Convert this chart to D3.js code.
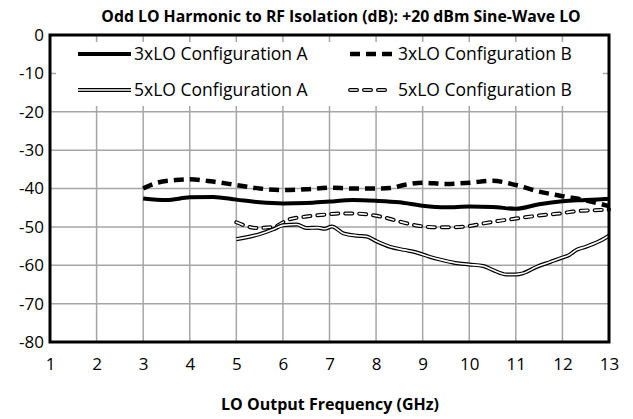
<!DOCTYPE html>
<html>
<head>
<meta charset="utf-8">
<script src="https://cdn.jsdelivr.net/npm/d3@7"></script>
<style>
  body { margin: 0; background: #fff; }
  text { font-family: "Open Sans", sans-serif; fill: #000; }
</style>
</head>
<body>
<svg id="root" width="633" height="419"></svg>
<script>
// data
const freq3A = [3, 3.5, 4, 4.5, 5, 5.5, 6, 6.5, 7, 7.5, 8, 8.5, 9, 9.5, 10, 10.5, 11, 11.5, 12, 12.5, 13];
const iso3A = [-42.6, -43.0, -42.3, -42.2, -42.9, -43.6, -43.9, -43.8, -43.4, -43.0, -43.2, -43.6, -44.5, -44.9, -44.7, -44.8, -45.3, -44.1, -43.3, -43.0, -42.7];

const freq3B = [3, 3.3, 3.7, 4, 4.5, 5, 5.5, 6, 6.5, 7, 7.5, 8, 8.3, 8.6, 9, 9.5, 10, 10.5, 11, 11.5, 12, 12.5, 13];
const iso3B = [-40.0, -38.5, -37.8, -37.6, -38.2, -39.1, -40.0, -40.4, -40.2, -39.8, -40.0, -40.0, -39.9, -39.1, -38.5, -38.8, -38.5, -38.0, -39.1, -40.8, -42.0, -43.1, -44.6];

const freq5A = [5, 5.5, 5.8, 6, 6.3, 6.5, 6.75, 6.9, 7.05, 7.3, 7.6, 7.8, 8, 8.3, 8.6, 8.85, 9.15, 9.4, 9.7, 10, 10.3, 10.5, 10.8, 11, 11.15, 11.45, 11.75, 12, 12.15, 12.3, 12.5, 12.8, 13];
const iso5A = [-53.2, -51.9, -50.6, -49.6, -49.4, -50.3, -50.2, -50.5, -49.9, -51.7, -52.3, -52.5, -53.7, -55.2, -56.0, -56.6, -57.8, -58.6, -59.4, -59.8, -60.2, -61.2, -62.4, -62.4, -62.1, -60.4, -59.1, -58.0, -57.3, -56.0, -55.2, -53.7, -52.3];

const freq5B = [5, 5.45, 5.8, 6.1, 6.5, 6.9, 7.2, 7.5, 7.9, 8.2, 8.5, 8.9, 9.3, 9.6, 10, 10.3, 10.6, 10.9, 11.2, 11.6, 11.95, 12.3, 12.8, 13];
const iso5B = [-48.8, -50.3, -50.0, -48.2, -47.3, -46.8, -46.5, -46.5, -46.9, -47.6, -48.6, -49.7, -50.1, -50.1, -49.8, -49.1, -48.5, -48.0, -47.5, -46.9, -46.5, -45.9, -45.6, -45.5];

const xTicks = d3.range(1, 14);
const yTicks = d3.range(-80, 1, 10);
const seriesNames = ["3xLO Configuration A", "3xLO Configuration B", "5xLO Configuration A", "5xLO Configuration B"];

const title = "Odd LO Harmonic to RF Isolation (dB): +20 dBm Sine-Wave LO";
const xTitle = "LO Output Frequency (GHz)";

const svg = d3.select("#root");

const x = d3.scaleLinear().domain([1, 13]).range([50, 609]);
const y = d3.scaleLinear().domain([-80, 0]).range([342, 35]);

// grid
svg.append("g")
  .selectAll("line.v")
  .data(xTicks)
  .enter().append("line")
  .attr("x1", d => x(d)).attr("x2", d => x(d))
  .attr("y1", y(0)).attr("y2", y(-80))
  .attr("stroke", "#a6a6a6").attr("stroke-width", 1.5);

svg.append("g")
  .selectAll("line.h")
  .data(yTicks)
  .enter().append("line")
  .attr("x1", x(1)).attr("x2", x(13))
  .attr("y1", d => y(d)).attr("y2", d => y(d))
  .attr("stroke", "#a6a6a6").attr("stroke-width", 1.5);

// axes labels (tick text only), plain hyphen like the original
const yAxis = d3.axisLeft(y).tickValues(yTicks).tickSize(0).tickPadding(6)
  .tickFormat(d => String(d));
svg.append("g")
  .attr("transform", `translate(${x(1)},0)`)
  .call(yAxis)
  .call(g => g.select(".domain").remove())
  .selectAll("text")
  .style("font-size", "17px")
  .style("font-family", "'Open Sans', sans-serif");

const xAxis = d3.axisBottom(x).tickValues(xTicks).tickSize(0).tickPadding(16)
  .tickFormat(d => String(d));
svg.append("g")
  .attr("transform", `translate(0,${y(-80)})`)
  .call(xAxis)
  .call(g => g.select(".domain").remove())
  .selectAll("text")
  .style("font-size", "17px")
  .style("font-family", "'Open Sans', sans-serif");

// legend box (covers grid)
svg.append("rect")
  .attr("x", 56).attr("y", 42)
  .attr("width", 547).attr("height", 64)
  .attr("fill", "#fff");

// series
const line = d3.line()
  .x(d => x(d[0]))
  .y(d => y(d[1]))
  .curve(d3.curveMonotoneX);

function pairs(fs, vs) {
  return fs.map((f, i) => [f, vs[i]]);
}

const plot = svg.append("g");

// 5xLO B : outlined dashes
plot.append("path")
  .attr("d", line(pairs(freq5B, iso5B)))
  .attr("fill", "none").attr("stroke", "#000")
  .attr("stroke-width", 4).attr("stroke-dasharray", "7,7")
  .attr("stroke-linecap", "round");
plot.append("path")
  .attr("d", line(pairs(freq5B, iso5B)))
  .attr("fill", "none").attr("stroke", "#fff")
  .attr("stroke-width", 1.6).attr("stroke-dasharray", "7,7")
  .attr("stroke-linecap", "round");

// 5xLO A : outlined solid
plot.append("path")
  .attr("d", line(pairs(freq5A, iso5A)))
  .attr("fill", "none").attr("stroke", "#000")
  .attr("stroke-width", 4);
plot.append("path")
  .attr("d", line(pairs(freq5A, iso5A)))
  .attr("fill", "none").attr("stroke", "#fff")
  .attr("stroke-width", 1.6);

// 3xLO A
plot.append("path")
  .attr("d", line(pairs(freq3A, iso3A)))
  .attr("fill", "none").attr("stroke", "#000")
  .attr("stroke-width", 4);

// 3xLO B
plot.append("path")
  .attr("d", line(pairs(freq3B, iso3B)))
  .attr("fill", "none").attr("stroke", "#000")
  .attr("stroke-width", 4.5).attr("stroke-dasharray", "10,6");

// legend entries
const legendPos = [
  {lx: 78, ly: 54},
  {lx: 350, ly: 54},
  {lx: 78, ly: 90},
  {lx: 350, ly: 90}
];
const legendStyles = [
  [{w: 4, c: "#000", dash: null}],
  [{w: 4.5, c: "#000", dash: "10,6"}],
  [{w: 4, c: "#000", dash: null}, {w: 1.6, c: "#fff", dash: null}],
  [{w: 4, c: "#000", dash: "7,7", cap: "round"}, {w: 1.6, c: "#fff", dash: "7,7", cap: "round"}]
];

seriesNames.forEach((name, i) => {
  let p = legendPos[i];
  let len = i % 2 === 0 ? 53 : 42;
  legendStyles[i].forEach(s => {
    svg.append("line")
      .attr("x1", p.lx).attr("x2", p.lx + len)
      .attr("y1", p.ly).attr("y2", p.ly)
      .attr("stroke", s.c).attr("stroke-width", s.w)
      .attr("stroke-dasharray", s.dash)
      .attr("stroke-linecap", s.cap || "butt");
  });
  svg.append("text")
    .attr("x", p.lx + len + (i % 2 === 0 ? 3 : 6))
    .attr("y", p.ly)
    .attr("dy", "0.35em")
    .style("font-size", "17.5px")
    .text(name);
});

// frame
svg.append("rect")
  .attr("x", x(1)).attr("y", y(0))
  .attr("width", x(13) - x(1)).attr("height", y(-80) - y(0))
  .attr("fill", "none").attr("stroke", "#000").attr("stroke-width", 3);

// titles
svg.append("text")
  .attr("x", 341).attr("y", 22)
  .attr("text-anchor", "middle")
  .style("font-size", "15.8px").style("font-weight", "bold")
  .text(title);

svg.append("text")
  .attr("x", 330).attr("y", 410)
  .attr("text-anchor", "middle")
  .style("font-size", "16px").style("font-weight", "bold")
  .text(xTitle);
</script>
</body>
</html>
